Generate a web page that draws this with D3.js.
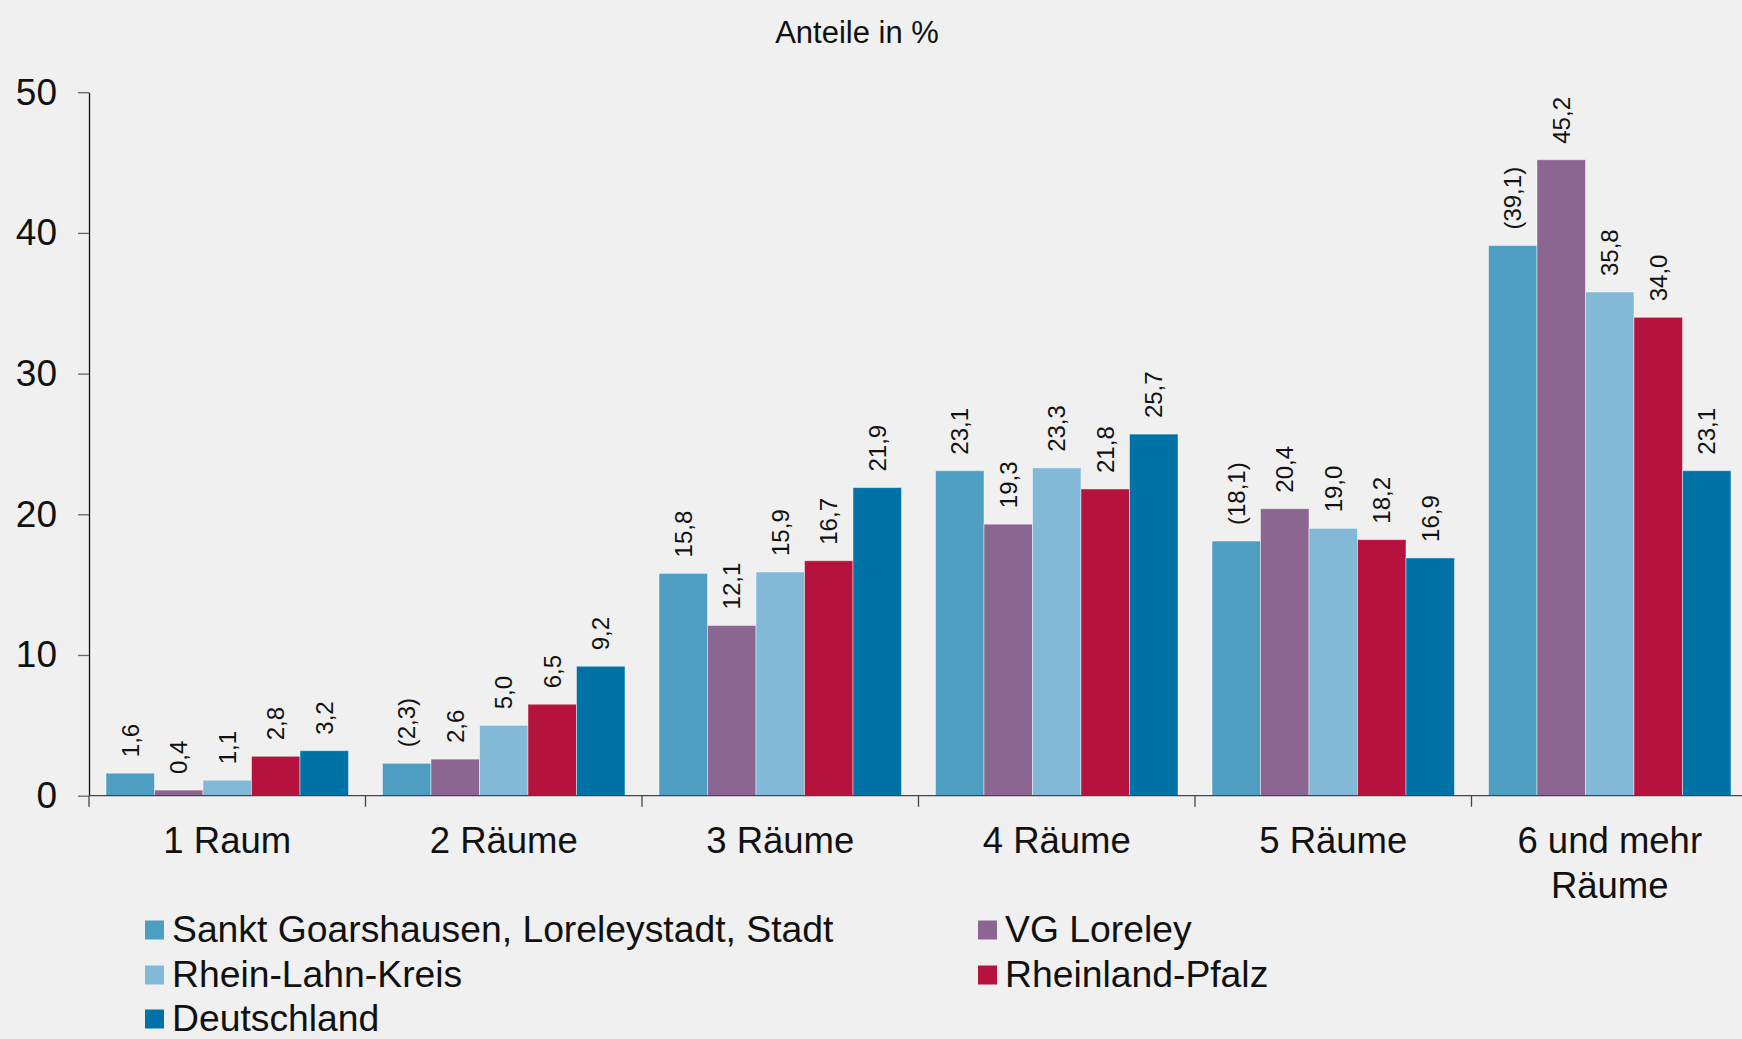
<!DOCTYPE html>
<html>
<head>
<meta charset="utf-8">
<script src="https://cdn.jsdelivr.net/npm/d3@7"></script>
<style>
  html, body { margin: 0; padding: 0; background: #eff0ef; }
  svg { display: block; font-family: "Liberation Sans", Arial, sans-serif; }
</style>
</head>
<body>
<svg id="main" width="1742" height="1039"></svg>
<script>
const categories = ["1 Raum", "2 Räume", "3 Räume", "4 Räume", "5 Räume", "6 und mehr\nRäume"];
const seriesNames = [
    "Sankt Goarshausen, Loreleystadt, Stadt",
    "VG Loreley",
    "Rhein-Lahn-Kreis",
    "Rheinland-Pfalz",
    "Deutschland"
];
const sanktValues = [1.6, 2.3, 15.8, 23.1, 18.1, 39.1];
const vgValues    = [0.4, 2.6, 12.1, 19.3, 20.4, 45.2];
const rlkValues   = [1.1, 5.0, 15.9, 23.3, 19.0, 35.8];
const rlpValues   = [2.8, 6.5, 16.7, 21.8, 18.2, 34.0];
const deValues    = [3.2, 9.2, 21.9, 25.7, 16.9, 23.1];
// values shown in brackets (low case numbers) for Sankt Goarshausen
const sanktBracketed = [false, true, false, false, true, true];
const yTicks = [0, 10, 20, 30, 40, 50];

const colors = ["#4e9ec1", "#8b6690", "#82b9d6", "#b5133d", "#0072a5"];

const allValues = [sanktValues, vgValues, rlkValues, rlpValues, deValues];
const bars = [];
categories.forEach((c, ci) => {
    allValues.forEach((vals, si) => {
        const bracket = si === 0 && sanktBracketed[ci];
        const txt = vals[ci].toFixed(1).replace(".", ",");
        bars.push({ cat: c, series: si, value: vals[ci], label: bracket ? `(${txt})` : txt });
    });
});

const svg = d3.select("#main");

const x = d3.scaleBand()
    .domain(categories)
    .range([89, 1748])
    .paddingInner(0.123)
    .paddingOuter(0.0615);

const xs = d3.scaleBand()
    .domain(d3.range(seriesNames.length))
    .range([0, x.bandwidth()]);

const y = d3.scaleLinear()
    .domain([0, 50])
    .range([795.7, 92.2]);

// title
svg.append("text")
    .attr("x", 857)
    .attr("y", 43)
    .attr("text-anchor", "middle")
    .attr("font-size", 31)
    .attr("fill", "#111")
    .text("Anteile in %");

// y axis
const yAxis = svg.append("g")
    .attr("transform", "translate(89,0)")
    .call(d3.axisLeft(y).tickValues(yTicks).tickSize(11).tickPadding(21).tickSizeOuter(0));
yAxis.select(".domain").attr("stroke", "#111").attr("stroke-width", 1.3);
yAxis.selectAll(".tick line").attr("stroke", "#666").attr("stroke-width", 1.3);
yAxis.selectAll(".tick text")
    .attr("font-size", 37)
    .attr("fill", "#111")
    .attr("font-family", "'Liberation Sans', Arial, sans-serif");

// bars
svg.append("g")
    .selectAll("rect")
    .data(bars)
    .enter()
    .append("rect")
    .attr("x", d => x(d.cat) + xs(d.series))
    .attr("y", d => y(d.value))
    .attr("width", xs.bandwidth())
    .attr("height", d => y(0) - y(d.value))
    .attr("fill", d => colors[d.series])
    .attr("stroke", "rgba(255,255,255,0.45)")
    .attr("stroke-width", 1);

// value labels
svg.append("g")
    .selectAll("text")
    .data(bars)
    .enter()
    .append("text")
    .attr("transform", d => {
        const cx = x(d.cat) + xs(d.series) + xs.bandwidth() / 2;
        return `translate(${cx}, ${y(d.value) - 16}) rotate(-90)`;
    })
    .attr("dy", "0.35em")
    .attr("font-size", 24)
    .attr("fill", "#111")
    .text(d => d.label);

// x axis line and boundary ticks
const step = x.step();
const half = step * x.paddingInner() / 2;
svg.append("line")
    .attr("x1", 89).attr("x2", 1742)
    .attr("y1", y(0)).attr("y2", y(0))
    .attr("stroke", "#444").attr("stroke-width", 1.3);
svg.append("g")
    .selectAll("line")
    .data(categories)
    .enter()
    .append("line")
    .attr("x1", d => x(d) - half)
    .attr("x2", d => x(d) - half)
    .attr("y1", y(0))
    .attr("y2", y(0) + 11)
    .attr("stroke", "#444")
    .attr("stroke-width", 1.3);

// category labels
svg.append("g")
    .selectAll("text")
    .data(categories)
    .enter()
    .append("text")
    .attr("x", d => x(d) + x.bandwidth() / 2)
    .attr("y", 853)
    .attr("text-anchor", "middle")
    .attr("font-size", 36.5)
    .attr("fill", "#111")
    .each(function(d) {
        const lines = d.split("\n");
        const t = d3.select(this);
        lines.forEach((l, i) => {
            t.append("tspan")
                .attr("x", x(d) + x.bandwidth() / 2)
                .attr("dy", i === 0 ? 0 : 45)
                .text(l);
        });
    });

// legend
const legendPos = [
    { x: 145, y: 942 },
    { x: 978, y: 942 },
    { x: 145, y: 987 },
    { x: 978, y: 987 },
    { x: 145, y: 1031 }
];
const legend = svg.append("g")
    .selectAll("g")
    .data(seriesNames)
    .enter()
    .append("g")
    .attr("transform", (d, i) => `translate(${legendPos[i].x}, ${legendPos[i].y})`);
legend.append("rect")
    .attr("x", 0)
    .attr("y", -21.5)
    .attr("width", 19)
    .attr("height", 19)
    .attr("fill", (d, i) => colors[i]);
legend.append("text")
    .attr("x", 27)
    .attr("y", 0)
    .attr("font-size", 37.3)
    .attr("fill", "#111")
    .text(d => d);
</script>
</body>
</html>
